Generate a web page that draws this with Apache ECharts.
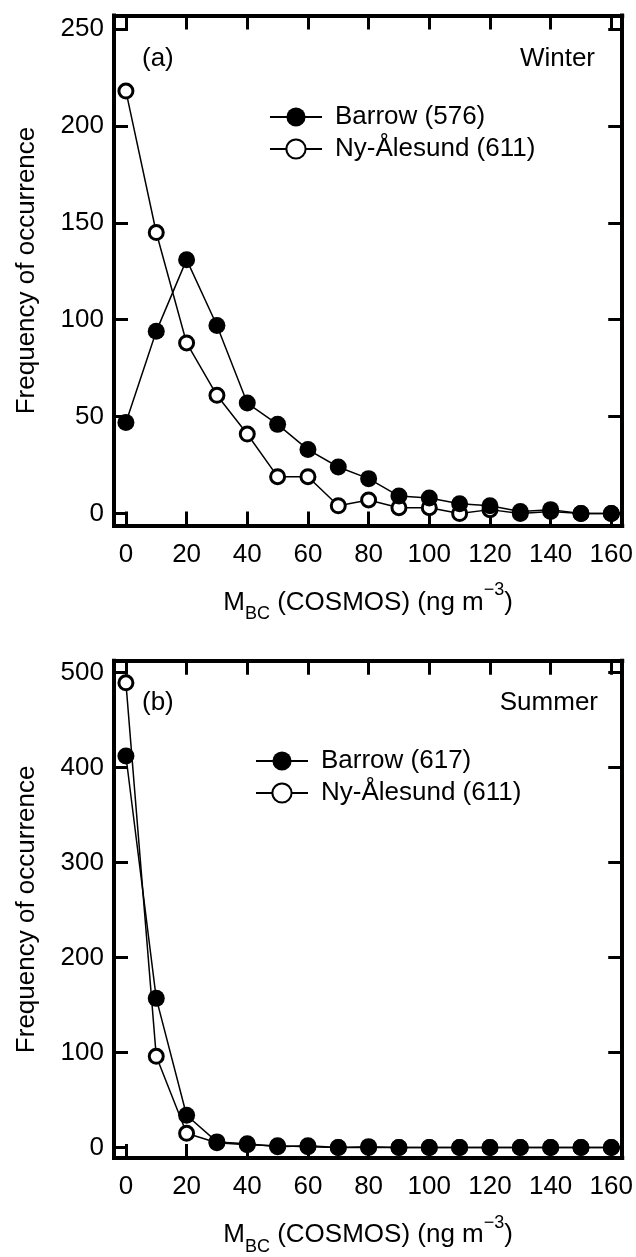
<!DOCTYPE html>
<html><head><meta charset="utf-8">
<script src="https://cdn.jsdelivr.net/npm/echarts@6/dist/echarts.min.js"></script>
<style>html,body{margin:0;padding:0;background:#fff}#c{width:636px;height:1257px}</style>
</head><body><div id="c"></div>
<script>
// ---- data ----
const xValues = [0,10,20,30,40,50,60,70,80,90,100,110,120,130,140,150,160];
const winterBarrow = [47,94,131,97,57,46,33,24,18,9,8,5,4,1,2,0,0];
const winterNy     = [218,145,88,61,41,19,19,4,7,3,3,0,2,0,1,0,0];
const summerBarrow = [412,157,34,6,4,1,2,0,1,0,0,0,0,0,0,0,0];
const summerNy     = [489,96,15,5,3,2,1,0,0,0,0,0,0,0,0,0,0];
const xTicks = [0,20,40,60,80,100,120,140,160];
const yTicksWinter = [0,50,100,150,200,250];
const yTicksSummer = [0,100,200,300,400,500];
const winterNames = ['Barrow (576)','Ny-Ålesund (611)'];
const summerNames = ['Barrow (617)','Ny-Ålesund (611)'];

const FONT = 'Liberation Sans, Arial, Helvetica, sans-serif';
const FS = 26;
const pairs = (ys) => xValues.map((x,i)=>[x, ys[i]]);

function xAxisCfg(gi, pos, labels){
  return {
    type:'value', gridIndex:gi, position:pos, min:-3.93, max:163.6,
    axisLine:{show:true, onZero:false, lineStyle:{color:'#000', width:4, cap:'square'}},
    axisTick:{show:true, inside:true, length:14, lineStyle:{color:'#000', width:3}, customValues:xTicks},
    axisLabel:{show:labels, customValues:xTicks, color:'#000', fontSize:FS, fontFamily:FONT, margin:16},
    splitLine:{show:false},
    name: labels ? '{n|M}{s|BC}{n| (COSMOS) (ng m}{p|−3}{n|)}' : '',
    nameLocation:'middle', nameGap:56,
    nameTextStyle:{rich:{
      n:{fontSize:FS, fontFamily:FONT, color:'#000', lineHeight:42},
      s:{fontSize:18, fontFamily:FONT, color:'#000', lineHeight:22, verticalAlign:'bottom'},
      p:{fontSize:18, fontFamily:FONT, color:'#000', lineHeight:22, verticalAlign:'top'}
    }}
  };
}
function yAxisCfg(gi, pos, labels, min, max, ticks){
  return {
    type:'value', gridIndex:gi, position:pos, min:min, max:max,
    axisLine:{show:true, onZero:false, lineStyle:{color:'#000', width:4, cap:'square'}},
    axisTick:{show:true, inside:true, length:14, lineStyle:{color:'#000', width:3}, customValues:ticks},
    axisLabel:{show:labels, customValues:ticks, color:'#000', fontSize:FS, fontFamily:FONT, margin:10},
    splitLine:{show:false},
    name: labels ? 'Frequency of occurrence' : '',
    nameLocation:'middle', nameGap:74, nameRotate:90,
    nameTextStyle:{fontSize:FS, fontFamily:FONT, color:'#000'}
  };
}
function filled(name, data, xi, yi){
  return {type:'line', name, data, xAxisIndex:xi, yAxisIndex:yi, symbol:'circle', symbolSize:17,
    lineStyle:{color:'#000', width:1.5}, itemStyle:{color:'#000', borderColor:'#000', borderWidth:0},
    emphasis:{disabled:true}, animation:false, z:3};
}
function open(name, data, xi, yi){
  return {type:'line', name, data, xAxisIndex:xi, yAxisIndex:yi, symbol:'circle', symbolSize:14,
    lineStyle:{color:'#000', width:1.5}, itemStyle:{color:'#fff', borderColor:'#000', borderWidth:3},
    emphasis:{disabled:true}, animation:false, z:2};
}
function legendCfg(names, left, top){
  return {show:true, orient:'vertical', left, top, padding:0, itemGap:6, itemWidth:52, itemHeight:24,
    selectedMode:false, data:names,
    textStyle:{fontSize:FS, fontFamily:FONT, color:'#000', padding:[0,0,0,8]}};
}
const txt = (t, x, y, align) => ({type:'text', left: align==='right'?undefined:x, right: align==='right'?x:undefined, top:y,
  style:{text:t, font:FS+'px '+FONT, fill:'#000'}});

const chart = echarts.init(document.getElementById('c'), null, {renderer:'canvas'});
chart.setOption({
  backgroundColor:'#fff',
  animation:false,
  grid:[
    {left:114, right:11, top:15.5, height:510},
    {left:114, right:11, top:660.7, height:511}
  ],
  xAxis:[xAxisCfg(0,'bottom',true), xAxisCfg(0,'top',false), xAxisCfg(1,'bottom',true), xAxisCfg(1,'top',false)],
  yAxis:[yAxisCfg(0,'left',true,-6.19,257,yTicksWinter), yAxisCfg(0,'right',false,-6.19,257,yTicksWinter),
         yAxisCfg(1,'left',true,-10.96,512.3,yTicksSummer), yAxisCfg(1,'right',false,-10.96,512.3,yTicksSummer)],
  legend:[legendCfg(winterNames, 269, 104), legendCfg(summerNames, 255, 748)],
  series:[
    open(winterNames[1], pairs(winterNy), 0, 0),
    filled(winterNames[0], pairs(winterBarrow), 0, 0),
    open(summerNames[1], pairs(summerNy), 2, 2),
    filled(summerNames[0], pairs(summerBarrow), 2, 2)
  ],
  graphic:[
    txt('(a)', 142, 46),
    txt('Winter', 41, 46, 'right'),
    txt('(b)', 142, 690),
    txt('Summer', 38, 690, 'right')
  ]
});
</script></body></html>
